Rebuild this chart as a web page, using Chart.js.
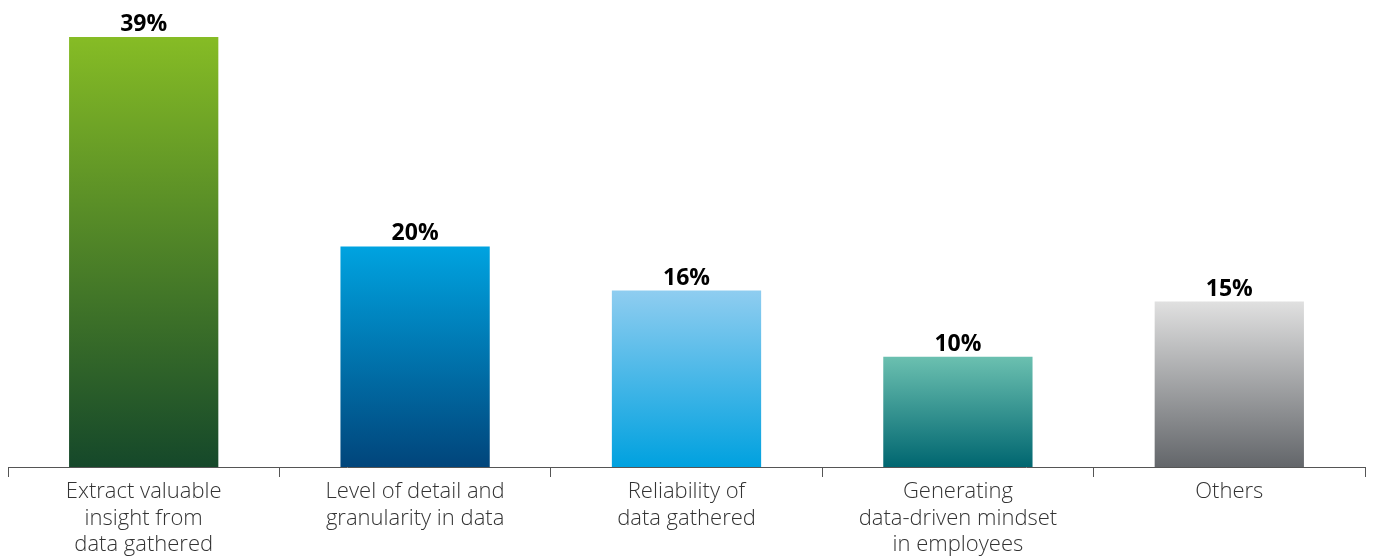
<!DOCTYPE html>
<html>
<head>
<meta charset="utf-8">
<script src="https://cdn.jsdelivr.net/npm/chart.js@4"></script>
<style>
  html, body { margin: 0; padding: 0; background: #fff; }
  #wrap { width: 1375px; height: 556px; position: relative; }
</style>
</head>
<body>
<div id="wrap"><canvas id="chart"></canvas></div>
<script>
// Data
const categories = [
  ["Extract valuable", "insight from", "data gathered"],
  ["Level of detail and", "granularity in data"],
  ["Reliability of", "data gathered"],
  ["Generating", "data-driven mindset", "in employees"],
  ["Others"],
];
const values = [39, 20, 16, 10, 15];

// gradient stops (top, bottom) per bar
const gradTop = ["#86bc25", "#00a3e0", "#8fcdf0", "#6bc0b0", "#e0e0e0"];
const gradBottom = ["#15482a", "#01457b", "#00a1df", "#006670", "#63666a"];

function barGradient(ctx) {
  const chart = ctx.chart;
  const area = chart.chartArea;
  if (!area) return gradTop[ctx.dataIndex];
  const y = chart.scales.y;
  const top = y.getPixelForValue(values[ctx.dataIndex]);
  const bottom = y.getPixelForValue(0);
  const g = chart.ctx.createLinearGradient(0, top, 0, bottom);
  g.addColorStop(0, gradTop[ctx.dataIndex]);
  g.addColorStop(1, gradBottom[ctx.dataIndex]);
  return g;
}

// value labels above bars
const valueLabels = {
  id: "valueLabels",
  afterDatasetsDraw(chart) {
    const c = chart.ctx;
    const meta = chart.getDatasetMeta(0);
    c.save();
    c.font = "bold 23px 'Open Sans'";
    c.fillStyle = "#000";
    c.textAlign = "center";
    c.textBaseline = "alphabetic";
    meta.data.forEach((bar, i) => {
      c.fillText(values[i] + "%", bar.x, bar.y - 6);
    });
    c.restore();
  },
};

new Chart(document.getElementById("chart"), {
  type: "bar",
  data: {
    labels: categories,
    datasets: [{
      data: values,
      backgroundColor: barGradient,
      borderWidth: 0,
      categoryPercentage: 1,
      barPercentage: 0.55,
    }],
  },
  options: {
    responsive: true,
    maintainAspectRatio: false,
    animation: false,
    layout: { padding: { top: 37, left: 8, right: 10, bottom: 0 } },
    plugins: {
      legend: { display: false },
      tooltip: { enabled: false },
    },
    scales: {
      x: {
        grid: {
          offset: true,
          drawOnChartArea: false,
          drawTicks: true,
          tickLength: 10,
          color: "#555",
          lineWidth: 1,
        },
        border: { display: true, color: "#555", width: 1 },
        ticks: {
          color: "#333",
          padding: 2,
          maxRotation: 0,
          autoSkip: false,
          font: { family: "'Open Sans'", size: 22, weight: 300, lineHeight: 1.2 },
        },
        afterFit: (s) => { s.height = 89; },
      },
      y: {
        display: false,
        min: 0,
        max: 39,
      },
    },
  },
  plugins: [valueLabels],
});
</script>
</body>
</html>
